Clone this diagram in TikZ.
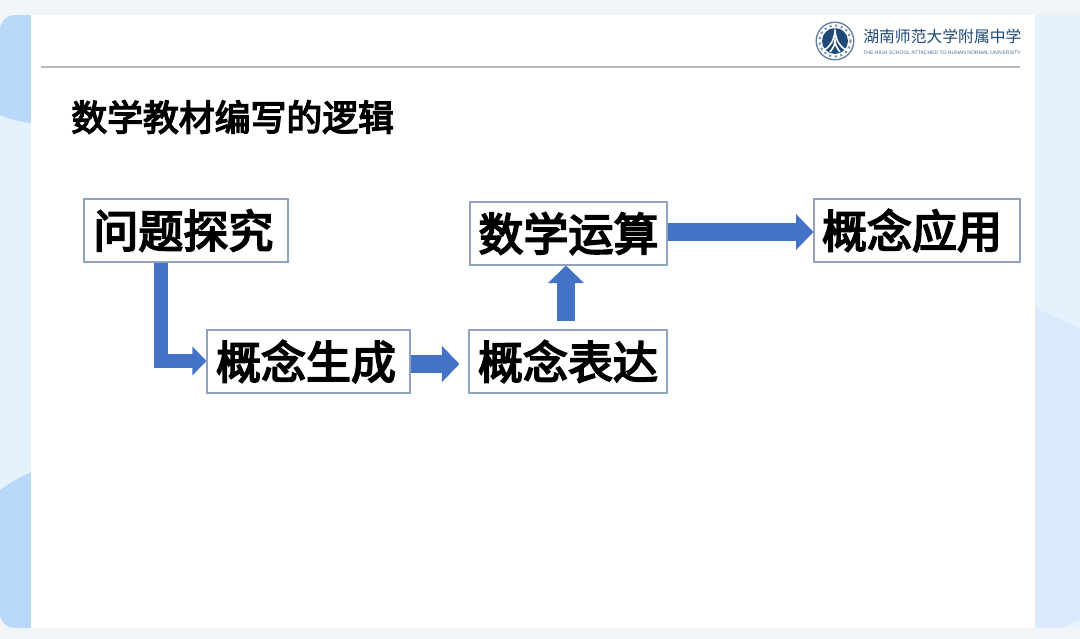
\documentclass[tikz,border=0pt]{standalone}
\usepackage{fontspec}
\newfontfamily\cjk[FakeBold=4]{Noto Sans CJK SC}
\newfontfamily\cjkthin{Noto Sans CJK SC}
\newfontfamily\latinlogo{Liberation Sans}
\usetikzlibrary{arrows.meta}
\definecolor{pagebg}{HTML}{F2F5F8}
\definecolor{sidelight}{HTML}{E4F2FD}
\definecolor{sideleft}{HTML}{BAD8FA}
\definecolor{sideright}{HTML}{DAE9FB}
\definecolor{boxline}{HTML}{8FA2C0}
\definecolor{arrowblue}{HTML}{4472C4}
\definecolor{logoblue}{HTML}{1F4A78}
\tikzset{
    conceptbox/.style={draw=boxline, fill=white, line width=0.6pt, minimum height=1.26cm, inner sep=0pt, font=\cjk\fontsize{25.6}{25.6}\selectfont, text=black},
    blockthin/.style={draw=arrowblue, line width=0.28cm, -{Triangle[length=0.28cm, width=0.56cm]}},
    blockthick/.style={draw=arrowblue, line width=0.35cm, -{Triangle[length=0.35cm, width=0.7cm]}}
}
\begin{document}
\begin{tikzpicture}[x=0.02cm,y=-0.02cm]
    \useasboundingbox (0,0) rectangle (1080,639);
    \fill[pagebg] (0,0) rectangle (1080,639);
    \fill[sidelight, rounded corners=0.3cm] (0,15) rectangle (60,628);
    \fill[sideleft] (0,30) arc[start angle=180, end angle=90, radius=0.3cm] -- (31,15) -- (31,123) .. controls (20,122) and (10,119) .. (0,115) -- cycle;
    \fill[sideleft] (31,472) .. controls (20,477) and (10,483) .. (0,490) -- (0,613) arc[start angle=180, end angle=270, radius=0.3cm] -- (31,628) -- cycle;
    \fill[sidelight] (1030,15) rectangle (1080,628);
    \fill[sideright] (1035,308) -- (1080,328) -- (1080,620) -- (1060,628) -- (1035,628) -- cycle;
    \fill[white] (31,15) rectangle (1035,628);
    \draw[color=black!28, line width=0.7pt] (41,67) -- (1020,67);

    \fill[logoblue!70] (835,41) circle (19.5);
    \fill[white] (835,41) circle (18);
    \draw[logoblue!60, line width=1.2pt, dotted] (835,41) circle (15.5);
    \fill[logoblue] (835,41) circle (13);
    \draw[white, line width=0.9pt] (824,50) .. controls (831,46) and (834,40) .. (835,31) .. controls (836,40) and (839,46) .. (846,50);
    \draw[white, line width=0.9pt] (830,52) .. controls (833,48) and (835,45) .. (835,40) .. controls (835,45) and (837,48) .. (840,52);
    \node[text=logoblue, font=\cjkthin\fontsize{9}{9}\selectfont, anchor=west, inner sep=0pt] (schoolname) at (863,36) {湖南师范大学附属中学};
    \node[text=logoblue!80, font=\latinlogo\fontsize{2.88}{2.88}\selectfont, anchor=west, inner sep=0pt] (schoolen) at (863,53) {THE HIGH SCHOOL ATTACHED TO HUNAN NORMAL UNIVERSITY};

    \node[text=black, font=\cjk\fontsize{20.4}{20.4}\selectfont, anchor=west, inner sep=0pt] (title) at (71,117) {数学教材编写的逻辑};

    \node[conceptbox, minimum width=4.08cm] (wenti) at (186,230.5) {\kern-3pt 问题探究};
    \node[conceptbox, minimum width=4.06cm] (shengcheng) at (308.5,361.5) {\kern-2.8pt 概念生成};
    \node[conceptbox, minimum width=3.96cm] (biaoda) at (568,361.5) {概念表达};
    \node[conceptbox, minimum width=3.94cm] (yunsuan) at (568.5,233.5) {数学运算};
    \node[conceptbox, minimum width=4.12cm] (yingyong) at (917,230.5) {\kern-5.7pt 概念应用};

    \coordinate (bend) at (161,361);
    \coordinate (midshaft) at (410,364);
    \coordinate (upshaft) at (566,300);
    \coordinate (longshaft) at (700,232);
    \draw[blockthin] (wenti.south -| bend) -- (bend) -- (shengcheng.west |- bend);
    \draw[blockthick, shorten >=0.18cm] (shengcheng.east |- midshaft) -- (biaoda.west |- midshaft);
    \draw[blockthick, shorten <=0.16cm] (biaoda.north -| upshaft) -- (yunsuan.south -| upshaft);
    \draw[blockthick] (yunsuan.east |- longshaft) -- (yingyong.west |- longshaft);
\end{tikzpicture}
\end{document}
